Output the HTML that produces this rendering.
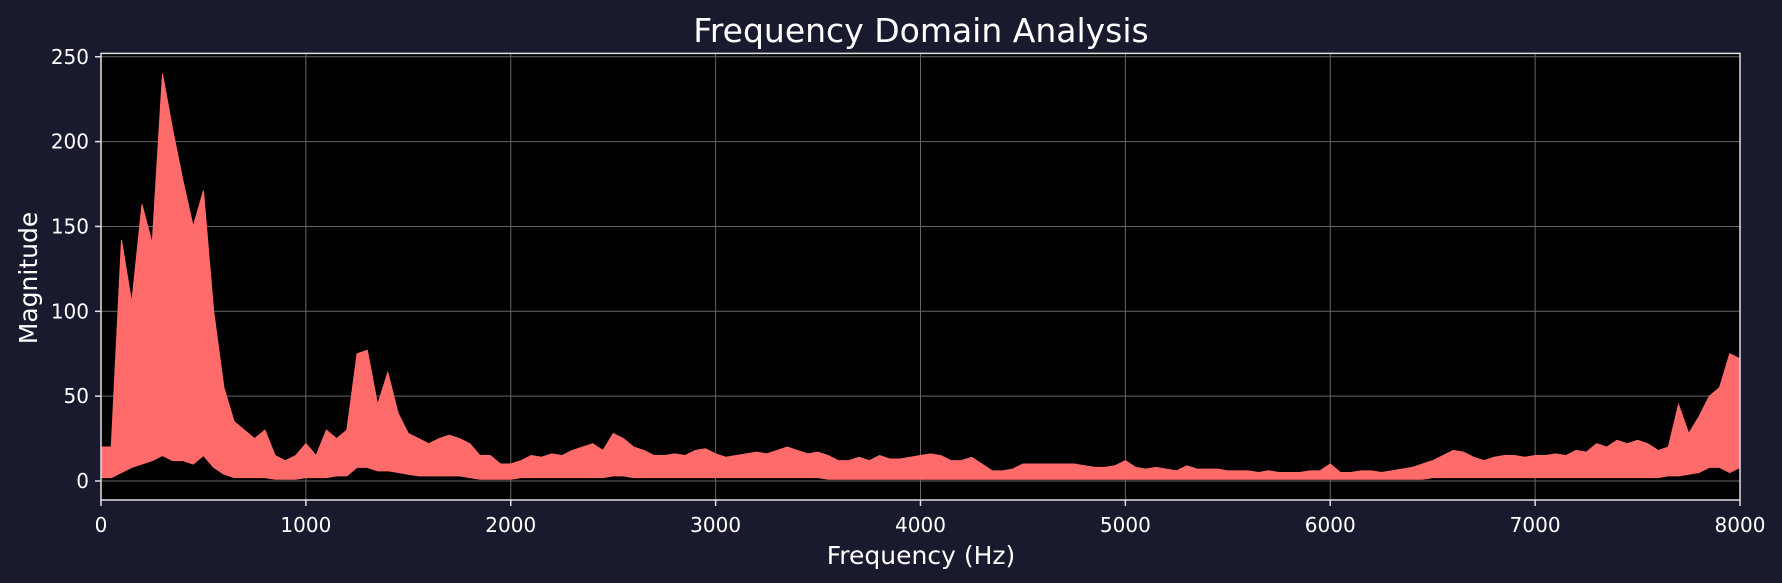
<!DOCTYPE html>
<html><head><meta charset="utf-8"><style>
body{margin:0;background:#1a1a2e;}
svg{display:block;font-family:"DejaVu Sans","Liberation Sans",sans-serif;}
</style></head><body>
<svg id="chart" width="1782" height="583">
<rect width="1782" height="583" fill="#1a1a2e"/>
<rect x="101" y="53.4" width="1639" height="446.6" fill="#000"/>
<g id="grid"></g>
<path id="spec" fill="#ff6b6b" stroke="#ff6b6b" stroke-width="1"/>
<rect x="101" y="53.4" width="1639" height="446.6" fill="none" stroke="#e0e0e0" stroke-width="1.5"/>
<g id="ticks"></g>
<text x="921" y="42" fill="#fff" font-size="33" text-anchor="middle">Frequency Domain Analysis</text>
<text x="921" y="564" fill="#fff" font-size="25" text-anchor="middle">Frequency (Hz)</text>
<text x="37" y="278" fill="#fff" font-size="25" text-anchor="middle" transform="rotate(-90 37 278)">Magnitude</text>
</svg>
<script>
const xTicks=[0,1000,2000,3000,4000,5000,6000,7000,8000];
const yTicks=[0,50,100,150,200,250];
const freqStep=50;
const hi=[20,20,142,105,163,140,240,207,177,150,171,100,55,35,30,25,30,15,12,15,22,15,30,25,30,75,77,45,64,40,28,25,22,25,27,25,22,15,15,10,10,12,15,14,16,15,18,20,22,18,28,25,20,18,15,15,16,15,18,19,16,14,15,16,17,16,18,20,18,16,17,15,12,12,14,12,15,13,13,14,15,16,15,12,12,14,10,6,6,7,10,10,10,10,10,10,9,8,8,9,12,8,7,8,7,6,9,7,7,7,6,6,6,5,6,5,5,5,6,6,10,5,5,6,6,5,6,7,8,10,12,15,18,17,14,12,14,15,15,14,15,15,16,15,18,17,22,20,24,22,24,22,18,20,45,28,38,50,55,75,72];
const lo=[2,2,5,8,10,12,15,12,12,10,15,8,4,2,2,2,2,1,1,1,2,2,2,3,3,8,8,6,6,5,4,3,3,3,3,3,2,1,1,1,1,2,2,2,2,2,2,2,2,2,3,3,2,2,2,2,2,2,2,2,2,2,2,2,2,2,2,2,2,2,2,1,1,1,1,1,1,1,1,1,1,1,1,1,1,1,1,1,1,1,1,1,1,1,1,1,1,1,1,1,1,1,1,1,1,1,1,1,1,1,1,1,1,1,1,1,1,1,1,1,1,1,1,1,1,1,1,1,1,1,2,2,2,2,2,2,2,2,2,2,2,2,2,2,2,2,2,2,2,2,2,2,2,3,3,4,5,8,8,5,8];
const X=f=>101+f*(1639/8000);
const Y=v=>481-v*1.697;
const NS='http://www.w3.org/2000/svg';
const grid=document.getElementById('grid'),ticks=document.getElementById('ticks');
function mk(tag,attrs,parent){const e=document.createElementNS(NS,tag);for(const k in attrs)e.setAttribute(k,attrs[k]);parent.appendChild(e);return e;}
xTicks.forEach(t=>{
 const g=mk('line',{x1:X(t),x2:X(t),y1:53.4,y2:500,stroke:'#666','stroke-width':1},grid);
 
 
 mk('line',{x1:X(t),x2:X(t),y1:500,y2:506,stroke:'#e0e0e0','stroke-width':1.5},ticks);
 const l=mk('text',{x:X(t),y:532,fill:'#fff','font-size':20,'text-anchor':'middle'},ticks);
 l.textContent=t;
 
 
});
yTicks.forEach(t=>{
 const g=mk('line',{x1:101,x2:1740,y1:Y(t),y2:Y(t),stroke:'#666','stroke-width':1},grid);
 
 
 mk('line',{x1:95,x2:101,y1:Y(t),y2:Y(t),stroke:'#e0e0e0','stroke-width':1.5},ticks);
 const l=mk('text',{x:89,y:Y(t)+7,fill:'#fff','font-size':20,'text-anchor':'end'},ticks);
 l.textContent=t;
 
 
});
let d='';
hi.forEach((v,i)=>{d+=(i?'L':'M')+X(i*freqStep)+' '+Y(v)+' ';});
for(let i=lo.length-1;i>=0;i--){d+='L'+X(i*freqStep)+' '+Y(lo[i])+' ';}
document.getElementById('spec').setAttribute('d',d+'Z');
</script>
</body></html>
